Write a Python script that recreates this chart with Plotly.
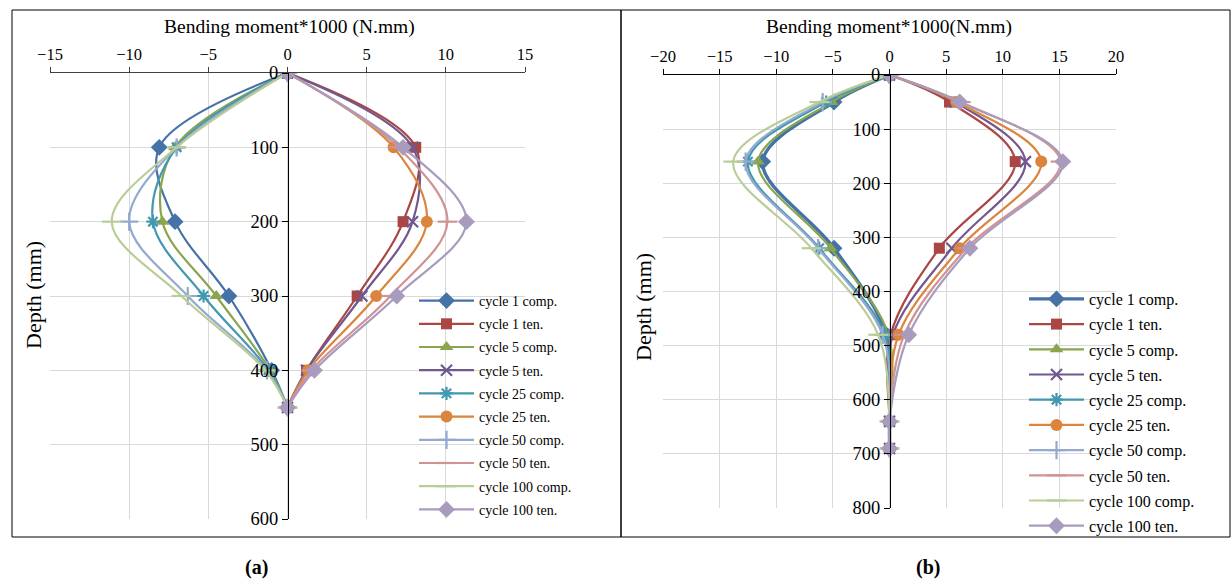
import plotly.graph_objects as go

# ---------------- data ----------------
series_names = ["cycle 1 comp.", "cycle 1 ten.", "cycle 5 comp.", "cycle 5 ten.",
                "cycle 25 comp.", "cycle 25 ten.", "cycle 50 comp.", "cycle 50 ten.",
                "cycle 100 comp.", "cycle 100 ten."]

depth_a = [0, 100, 200, 300, 400, 450]
a_c1_comp = [0, -8.1, -7.1, -3.7, -1.0, 0]
a_c1_ten = [0, 8.1, 7.3, 4.4, 1.2, 0]
a_c5_comp = [0, -7.1, -7.9, -4.5, -1.1, 0]
a_c5_ten = [0, 7.9, 7.9, 4.7, 1.2, 0]
a_c25_comp = [0, -7.0, -8.5, -5.3, -1.2, 0]
a_c25_ten = [0, 6.7, 8.8, 5.6, 1.3, 0]
a_c50_comp = [0, -7.0, -10.0, -6.3, -1.3, 0]
a_c50_ten = [0, 7.0, 10.1, 6.5, 1.5, 0]
a_c100_comp = [0, -7.0, -11.1, -6.7, -1.4, 0]
a_c100_ten = [0, 7.3, 11.3, 6.9, 1.7, 0]

depth_b = [0, 50, 160, 320, 480, 640, 690]
b_c1_comp = [0, -4.9, -11.2, -4.9, -0.3, 0, 0]
b_c1_ten = [0, 5.3, 11.1, 4.4, 0.1, 0, 0]
b_c5_comp = [0, -5.1, -11.6, -5.2, -0.1, 0, 0]
b_c5_ten = [0, 5.8, 12.0, 5.5, 0.3, 0, 0]
b_c25_comp = [0, -5.6, -12.5, -6.2, -0.4, 0, 0]
b_c25_ten = [0, 5.9, 13.4, 6.2, 0.8, 0, 0]
b_c50_comp = [0, -5.9, -12.7, -6.3, -0.6, 0, 0]
b_c50_ten = [0, 6.3, 15.1, 6.8, 1.3, 0, 0]
b_c100_comp = [0, -6.2, -13.8, -6.9, -1.0, 0, 0]
b_c100_ten = [0, 6.2, 15.3, 7.1, 1.7, 0, 0]

xticks_a = [-15, -10, -5, 0, 5, 10, 15]
yticks_a = [0, 100, 200, 300, 400, 500, 600]
xticks_b = [-20, -15, -10, -5, 0, 5, 10, 15, 20]
yticks_b = [0, 100, 200, 300, 400, 500, 600, 700, 800]

series_a = [a_c1_comp, a_c1_ten, a_c5_comp, a_c5_ten, a_c25_comp,
            a_c25_ten, a_c50_comp, a_c50_ten, a_c100_comp, a_c100_ten]
series_b = [b_c1_comp, b_c1_ten, b_c5_comp, b_c5_ten, b_c25_comp,
            b_c25_ten, b_c50_comp, b_c50_ten, b_c100_comp, b_c100_ten]

# ---------------- styles ----------------
colors = ["#4572A7", "#AA4643", "#89A54E", "#71588F", "#4198AF",
          "#DB843D", "#93A9CF", "#D19392", "#B9CD96", "#A99BBD"]
symbols = ["diamond", "square", "triangle-up", "x-thin-open", "asterisk-open",
           "circle", "cross-thin-open", "line-ew-open", "line-ew-open", "diamond"]
sizes = [13, 11, 12, 11, 11, 12, 13, 14, 14, 13]

FONT = "Liberation Serif, Times New Roman, serif"
W, H = 1232, 580

fig = go.Figure()


def add_panel(series, depth, xa, ya, legend, widths):
    for i, (name, vals) in enumerate(zip(series_names, series)):
        open_sym = symbols[i].endswith("open")
        fig.add_trace(go.Scatter(
            x=vals, y=depth, name=name, mode="lines+markers",
            xaxis=xa, yaxis=ya, legend=legend, legendgroup=legend + str(i),
            line=dict(color=colors[i], width=widths[i], shape="spline", smoothing=1.0),
            marker=dict(symbol=symbols[i], size=sizes[i], color=colors[i],
                        line=dict(color=colors[i], width=2.2 if open_sym else 0)),
        ))


add_panel(series_a, depth_a, "x", "y", "legend", [2.2] * 10)
add_panel(series_b, depth_b, "x2", "y2", "legend2", [3.4] + [2.2] * 9)

# domains (pixel -> paper)
ax_l, ax_r, ay_t, ay_b = 50, 525, 73, 519
bx_l, bx_r, by_t, by_b = 663, 1116, 75, 508
px = lambda v: v / W
py = lambda v: 1 - v / H

grid = "#D9D9D9"
xtickfont = dict(family=FONT, size=16.5, color="black")
ytickfont = dict(family=FONT, size=18.5, color="black")

fig.update_layout(
    width=W, height=H, margin=dict(l=0, r=0, t=0, b=0, autoexpand=False),
    paper_bgcolor="white", plot_bgcolor="white",
    font=dict(family=FONT, color="black"),
    xaxis=dict(domain=[px(ax_l), px(ax_r)], range=[-15, 15], side="top", anchor="y",
               tickvals=xticks_a, showgrid=True, gridcolor=grid, gridwidth=1,
               zeroline=False, showline=True, linecolor="#404040", linewidth=1,
               ticks="outside", ticklen=5, tickcolor="#404040", tickfont=xtickfont,
               automargin=False),
    yaxis=dict(domain=[py(ay_b), py(ay_t)], range=[600, 0], anchor="free",
               position=px(288), tickvals=yticks_a, showgrid=True, gridcolor=grid,
               zeroline=False, showline=True, linecolor="black", linewidth=1,
               ticks="outside", ticklen=6, tickcolor="black", tickfont=ytickfont,
               automargin=False),
    xaxis2=dict(domain=[px(bx_l), px(bx_r)], range=[-20, 20], side="top", anchor="y2",
                tickvals=xticks_b, showgrid=True, gridcolor=grid, gridwidth=1,
                zeroline=False, showline=True, linecolor="black", linewidth=1,
                ticks="outside", ticklen=5, tickcolor="black", tickfont=xtickfont,
                automargin=False),
    yaxis2=dict(domain=[py(by_b), py(by_t)], range=[800, 0], anchor="free",
                position=px(890), tickvals=yticks_b, showgrid=True, gridcolor=grid,
                zeroline=False, showline=True, linecolor="black", linewidth=1,
                ticks="outside", ticklen=6, tickcolor="black", tickfont=ytickfont,
                automargin=False),
    legend=dict(x=px(414), y=py(285), xanchor="left", yanchor="top",
                bgcolor="rgba(0,0,0,0)", borderwidth=0, itemwidth=55, tracegroupgap=2,
                font=dict(family=FONT, size=14, color="black")),
    legend2=dict(x=px(1024), y=py(282), xanchor="left", yanchor="top",
                 bgcolor="rgba(0,0,0,0)", borderwidth=0, itemwidth=55, tracegroupgap=1.4,
                 font=dict(family=FONT, size=16, color="black")),
    showlegend=True,
)

annotations = [
    dict(text="Bending moment*1000 (N.mm)", x=px(289), y=py(27), font=dict(size=19.5)),
    dict(text="Bending moment*1000(N.mm)", x=px(889), y=py(27), font=dict(size=19.5)),
    dict(text="Depth (mm)", x=px(33), y=py(295), textangle=-90, font=dict(size=22)),
    dict(text="Depth (mm)", x=px(643), y=py(307), textangle=-90, font=dict(size=22)),
    dict(text="<b>(a)</b>", x=px(256), y=py(567), font=dict(size=20)),
    dict(text="<b>(b)</b>", x=px(928), y=py(567), font=dict(size=20)),
]
for a in annotations:
    a.update(xref="paper", yref="paper", showarrow=False, xanchor="center", yanchor="middle")
    a["font"].update(family=FONT, color="black")
fig.update_layout(annotations=annotations)

fig.update_layout(shapes=[
    # white backgrounds behind the legends (hide gridlines, stay inside the frame)
    dict(type="rect", xref="paper", yref="paper", layer="between",
         x0=px(416), x1=px(619), y0=py(522), y1=py(288),
         fillcolor="white", line=dict(width=0)),
    dict(type="rect", xref="paper", yref="paper", layer="between",
         x0=px(1024), x1=px(1228), y0=py(535), y1=py(284),
         fillcolor="white", line=dict(width=0)),
    dict(type="rect", xref="paper", yref="paper", x0=px(12), x1=px(621), y0=py(537), y1=py(10),
         line=dict(color="black", width=1)),
    dict(type="rect", xref="paper", yref="paper", x0=px(621), x1=px(1230), y0=py(537), y1=py(10),
         line=dict(color="black", width=1)),
])

fig.write_html("out.html")
